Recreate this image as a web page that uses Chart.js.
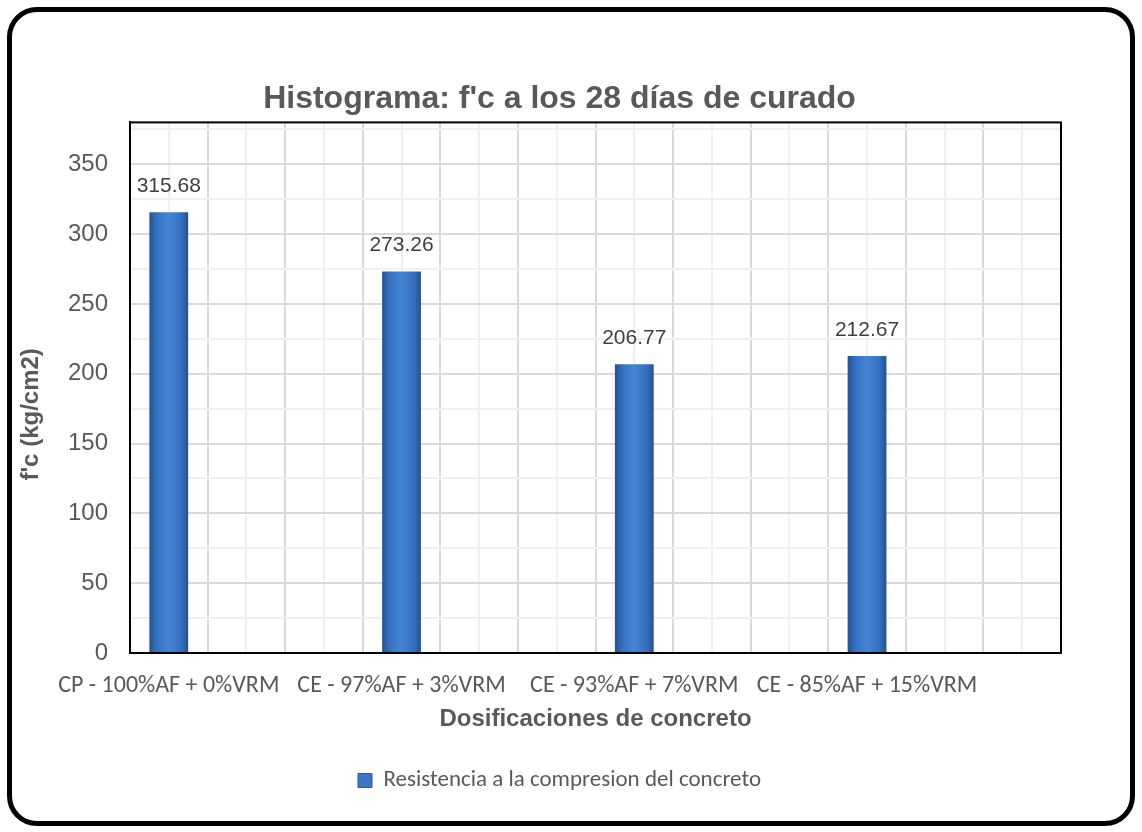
<!DOCTYPE html>
<html>
<head>
<meta charset="utf-8">
<script src="https://cdn.jsdelivr.net/npm/chart.js@4"></script>
<style>
  html, body { margin: 0; padding: 0; background: #ffffff; }
  #wrap { position: relative; width: 1142px; height: 832px; overflow: hidden; }
  #frame { position: absolute; left: 7px; top: 7px; width: 1118px; height: 809px;
           border: 5px solid #000; border-radius: 30px; pointer-events: none; }
  canvas { position: absolute; left: 0; top: 0; }
</style>
</head>
<body>
<div id="wrap">
  <canvas id="c" width="1142" height="832"></canvas>
  <div id="frame"></div>
</div>
<script>
// ---- data ----
const categories = [
  'CP - 100%AF + 0%VRM',
  'CE - 97%AF + 3%VRM',
  'CE - 93%AF + 7%VRM',
  'CE - 85%AF + 15%VRM'
];
const resistencia = [315.68, 273.26, 206.77, 212.67];
const seriesName = 'Resistencia a la compresion del concreto';
const chartTitle = "Histograma: f'c a los 28 días de curado";
const yTitle = "f'c (kg/cm2)";
const xTitle = 'Dosificaciones de concreto';
const yTickLabels = [0, 50, 100, 150, 200, 250, 300, 350];

// each category is followed by two empty slots (as in the original sheet)
const emptySlotsAfter = 2;
const labels = [];
const values = [];
categories.forEach((name, i) => {
  labels.push(name); values.push(resistencia[i]);
  for (let k = 0; k < emptySlotsAfter; k++) { labels.push(''); values.push(null); }
});

const GREY = '#595959';
const ARIAL = "'Liberation Sans', Arial, sans-serif";
const CALIBRI = "Carlito, Calibri, Lato, sans-serif";

const frameBorder = {
  id: 'frameBorder',
  afterDraw(chart) {
    const a = chart.chartArea, ctx = chart.ctx;
    ctx.save();
    ctx.strokeStyle = '#000';
    ctx.lineWidth = 2;
    ctx.strokeRect(a.left, a.top, a.right - a.left, a.bottom - a.top);
    ctx.restore();
  }
};

const valueLabels = {
  id: 'valueLabels',
  afterDatasetsDraw(chart) {
    const ctx = chart.ctx;
    const meta = chart.getDatasetMeta(0);
    ctx.save();
    ctx.font = '21px ' + ARIAL;
    ctx.fillStyle = '#404040';
    ctx.textAlign = 'center';
    ctx.textBaseline = 'middle';
    meta.data.forEach((el, i) => {
      const v = chart.data.datasets[0].data[i];
      if (v === null || v === undefined) return;
      ctx.fillText(v.toFixed(2), el.x, el.y - 26);
    });
    ctx.restore();
  }
};

function barFill(c) {
  const chart = c.chart;
  const xs = chart.scales && chart.scales.x;
  if (!xs || c.dataIndex === undefined || c.type !== 'data') return '#3a74c2';
  const x = xs.getPixelForValue(c.dataIndex);
  const hw = xs.width / labels.length / 4;
  if (!isFinite(x) || !isFinite(hw) || hw <= 0) return '#3a74c2';
  const g = chart.ctx.createLinearGradient(x - hw, 0, x + hw, 0);
  g.addColorStop(0, '#25528f');
  g.addColorStop(0.18, '#3470bf');
  g.addColorStop(0.5, '#4585d6');
  g.addColorStop(0.82, '#3470bf');
  g.addColorStop(1, '#25528f');
  return g;
}

new Chart(document.getElementById('c'), {
  type: 'bar',
  data: {
    labels: labels,
    datasets: [{
      label: seriesName,
      data: values,
      backgroundColor: barFill,
      borderWidth: 0,
      barPercentage: 0.5,
      categoryPercentage: 1.0
    }]
  },
  options: {
    responsive: false,
    animation: false,
    devicePixelRatio: 1,
    layout: { padding: { left: 58, right: 81, top: 0, bottom: 30 } },
    plugins: {
      title: {
        display: true,
        text: chartTitle,
        color: GREY,
        font: { family: ARIAL, size: 32, weight: 'bold', lineHeight: 1.2 },
        padding: { top: 80, bottom: 4 }
      },
      legend: {
        position: 'bottom',
        labels: {
          color: GREY,
          font: { family: CALIBRI, size: 23 },
          boxWidth: 14,
          boxHeight: 14,
          padding: 31,
          generateLabels(chart) {
            return [{
              text: seriesName,
              fillStyle: '#3b76c4',
              strokeStyle: '#2a5a98',
              lineWidth: 1,
              fontColor: GREY,
              datasetIndex: 0
            }];
          }
        }
      },
      tooltip: { enabled: false }
    },
    scales: {
      x: {
        type: 'category',
        offset: true,
        grid: { offset: true, color: '#d9d9d9', lineWidth: 2, drawTicks: false },
        border: { display: true, color: '#000', width: 2 },
        ticks: {
          color: GREY,
          font: { family: CALIBRI, size: 24 },
          autoSkip: false,
          maxRotation: 0,
          minRotation: 0,
          padding: 19
        },
        title: {
          display: true,
          text: xTitle,
          color: GREY,
          font: { family: ARIAL, size: 24, weight: 'bold', lineHeight: 1.2 },
          padding: { top: 0, bottom: 4 }
        },
        afterFit(scale) { scale.height = 85; }
      },
      x2: {
        type: 'category',
        labels: labels,
        position: 'bottom',
        offset: true,
        grid: { offset: false, color: '#f0f0f0', lineWidth: 2, drawTicks: false },
        border: { display: false },
        ticks: { display: false },
        afterFit(scale) { scale.height = 0; }
      },
      y: {
        min: 0,
        max: 380,
        grid: {
          color: (c) => (c.tick && c.tick.value % 50 === 0) ? '#d9d9d9' : '#f0f0f0',
          lineWidth: 2,
          drawTicks: false
        },
        border: { display: true, color: '#000', width: 2 },
        ticks: {
          stepSize: 25,
          includeBounds: false,
          color: GREY,
          font: { family: ARIAL, size: 24 },
          padding: 22,
          callback: (v) => yTickLabels.includes(v) ? String(v) : ''
        },
        title: {
          display: true,
          text: yTitle + '        ',
          color: GREY,
          font: { family: ARIAL, size: 24, weight: 'bold', lineHeight: 1.2 },
          padding: { top: -41, bottom: 0 }
        },
        afterFit(scale) { scale.width = 72; }
      }
    }
  },
  plugins: [frameBorder, valueLabels]
});
</script>
</body>
</html>
